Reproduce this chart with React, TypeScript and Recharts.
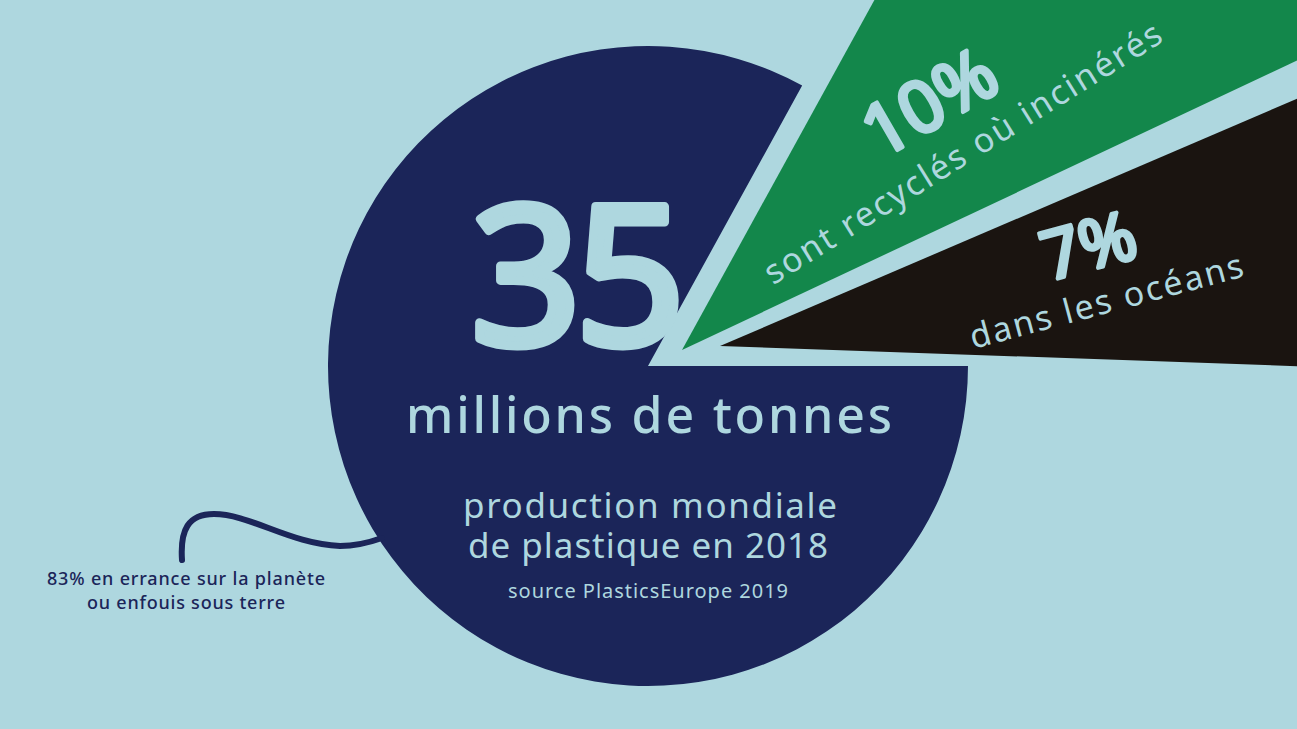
import React from 'react';
import { PieChart, Pie, Cell } from 'recharts';

// Data
const categories = ['dans les océans', 'sont recyclés où incinérés', 'en errance sur la planète ou enfouis sous terre'];
const shares = [7, 10, 83];
const totalMillionTonnes = 35;
const sourceLabel = 'source PlasticsEurope 2019';

const BG = '#aed7df';
const NAVY = '#1b2559';
const GREEN = '#13874b';
const BLACK = '#1a1410';
const colors = [BLACK, GREEN, NAVY];
const FONT = "'Noto Sans', 'DejaVu Sans', sans-serif";

const data = categories.map((name, i) => ({ name, value: shares[i] }));

const W = 1297;
const H = 729;

function slicePie(visible: number, cx: number, cy: number, outerRadius: number, startAngle: number) {
  return (
    <Pie
      key={`pie-${visible}`}
      data={data}
      dataKey="value"
      nameKey="name"
      cx={cx}
      cy={cy}
      innerRadius={0}
      outerRadius={outerRadius}
      startAngle={startAngle}
      endAngle={startAngle + 360}
      stroke="none"
      isAnimationActive={false}
      legendType="none"
    >
      {data.map((d, i) => (
        <Cell key={d.name} fill={i === visible ? colors[i] : 'transparent'} stroke="none" />
      ))}
    </Pie>
  );
}

const bigNum = { fill: BG, stroke: BG, strokeLinejoin: 'round' as const, fontFamily: FONT, fontWeight: 400 };

export default function App() {
  return (
    <div style={{ position: 'absolute', left: 0, top: 0, width: W, height: H, background: BG, overflow: 'hidden' }}>
      <PieChart width={W} height={H} margin={{ top: 0, right: 0, bottom: 0, left: 0 }}>
        {slicePie(2, 648, 366, 320, 0)}
        {slicePie(1, 682, 350, 1500, 0)}
        {slicePie(0, 720, 346, 1500, -2)}
      </PieChart>
      <svg
        width={W}
        height={H}
        style={{ position: 'absolute', left: 0, top: 0, pointerEvents: 'none' }}
      >
        <path
          d="M 182 560 C 180 530, 188 514, 214 514 C 250 514, 290 544, 340 546 C 356 546, 368 543, 382 538"
          fill="none"
          stroke={NAVY}
          strokeWidth={6}
          strokeLinecap="round"
        />

        <text x={578} y={344} textAnchor="middle" {...bigNum} strokeWidth={9} fontSize={192} textLength={214} lengthAdjust="spacing">
          {totalMillionTonnes}
        </text>
        <text x={649} y={433} textAnchor="middle" fill={BG} fontFamily={FONT} fontSize={50} fontWeight={500} textLength={486} lengthAdjust="spacing">
          millions de tonnes
        </text>
        <text x={650} y={518} textAnchor="middle" fill={BG} fontFamily={FONT} fontSize={35} textLength={374} lengthAdjust="spacing">
          production mondiale
        </text>
        <text x={648} y={558} textAnchor="middle" fill={BG} fontFamily={FONT} fontSize={35} textLength={360} lengthAdjust="spacing">
          de plastique en 2018
        </text>
        <text x={648} y={598} textAnchor="middle" fill={BG} fontFamily={FONT} fontSize={20} textLength={280} lengthAdjust="spacing">
          {sourceLabel}
        </text>

        <text x={186} y={585} textAnchor="middle" fill={NAVY} fontFamily={FONT} fontSize={18} fontWeight={500} textLength={278} lengthAdjust="spacing">
          {`${shares[2]}% en errance sur la planète`}
        </text>
        <text x={186} y={609} textAnchor="middle" fill={NAVY} fontFamily={FONT} fontSize={18} fontWeight={500} textLength={198} lengthAdjust="spacing">
          ou enfouis sous terre
        </text>

        <text x={928} y={100} textAnchor="middle" dominantBaseline="central" transform="rotate(-30 928 100)" {...bigNum} strokeWidth={4} fontSize={72}>
          {`${shares[1]}%`}
        </text>
        <text x={962} y={152} textAnchor="middle" dominantBaseline="central" transform="rotate(-32 962 152)" fill={BG} fontFamily={FONT} fontSize={34} textLength={462} lengthAdjust="spacing">
          {categories[1]}
        </text>

        <text x={1088} y={243} textAnchor="middle" dominantBaseline="central" transform="rotate(-15 1088 243)" {...bigNum} strokeWidth={4} fontSize={68}>
          {`${shares[0]}%`}
        </text>
        <text x={1106} y={300} textAnchor="middle" dominantBaseline="central" transform="rotate(-15 1106 300)" fill={BG} fontFamily={FONT} fontSize={34} textLength={282} lengthAdjust="spacing">
          {categories[0]}
        </text>
      </svg>
    </div>
  );
}
